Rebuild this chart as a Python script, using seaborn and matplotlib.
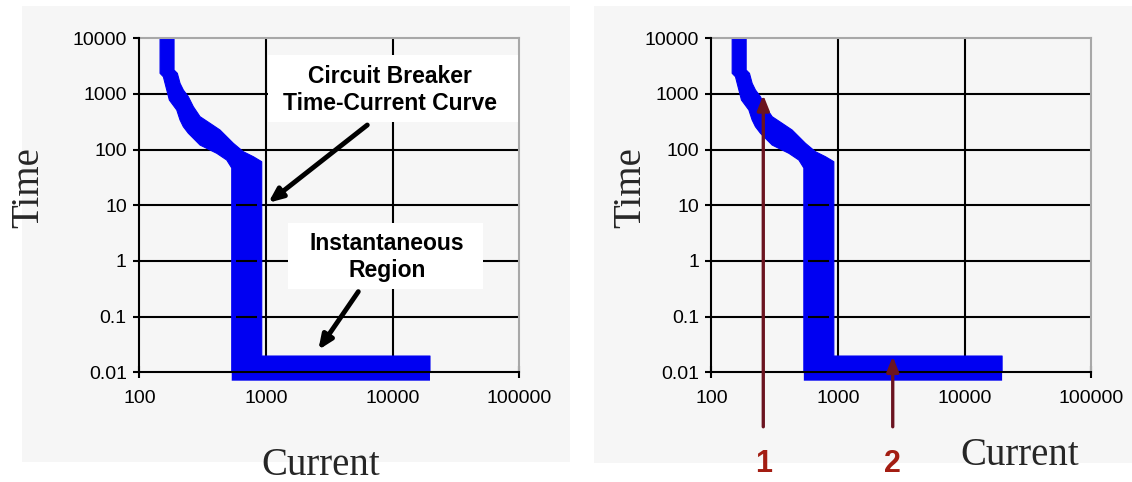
import seaborn as sns
import matplotlib.pyplot as plt
from matplotlib.patches import Rectangle

# breaker trip band (current, time)
upper_current = [187.9, 187.9, 199.5, 209.5, 222.5, 243.6, 266.8, 301.4, 361.4, 433.5,
                 552, 662, 794, 925, 925, 19700, 19700]
upper_time = [10000, 2696, 2351, 1555, 1178, 893, 591, 391, 297, 225,
              130, 91.8, 74.7, 60.7, 0.0196, 0.0196, 0.00707]
lower_current = [145.7, 145.7, 154.7, 172.5, 197.4, 209.5, 222.5, 243.6, 301.4, 408.2,
                 489.6, 536.2, 536.2]
lower_time = [10000, 2351, 2042, 779, 515, 341, 258, 197, 121, 86,
              65.1, 46.8, 0.00707]

# grid remnants seen inside the vertical part of the band
mark_time = [10, 1, 0.1]
mark_current_from = 580
mark_current_to = 853

x_ticks = [100, 1000, 10000, 100000]
x_labels = ['100', '1000', '10000', '100000']
y_ticks = [0.01, 0.1, 1, 10, 100, 1000, 10000]
y_labels = ['0.01', '0.1', '1', '10', '100', '1000', '10000']

# left panel callouts (arrow tip, arrow tail)
curve_tip = (1042, 11.1)
curve_tail = (6302, 277)
inst_tip = (2587, 0.0252)
inst_tail = (5352, 0.281)

# right panel numbered arrows
point_current = [256.5, 2698]
point_time = [957, 0.0193]
point_tail_time = 0.00105
point_names = ['1', '2']

band_x = upper_current + lower_current[::-1]
band_y = upper_time + lower_time[::-1]

panel_gray = '#f6f6f6'
blue = '#0000f2'
maroon = '#6b1420'

sns.set_theme(style='white')
plt.rcParams['font.family'] = ['Liberation Sans', 'DejaVu Sans']

fig = plt.figure(figsize=(11.32, 4.82), dpi=100)
fig.patch.set_facecolor('white')
for r in [(0.0194, 0.0409, 0.4841, 0.9467), (0.525, 0.0394, 0.475, 0.9481)]:
	fig.add_artist(Rectangle(r[:2], r[2], r[3], transform=fig.transFigure,
							 facecolor=panel_gray, edgecolor='none', zorder=-1))

ax_l = fig.add_axes([0.1231, 0.2276, 0.3357, 0.6929])
ax_r = fig.add_axes([0.6285, 0.2276, 0.3357, 0.6929])


def draw_panel(ax):
	ax.set_xscale('log')
	ax.set_yscale('log')
	ax.set_facecolor(panel_gray)

	for x in x_ticks[1:-1]:
		ax.axvline(x, color='black', lw=1.5, zorder=1)
	for y in y_ticks[1:-1]:
		ax.axhline(y, color='black', lw=1.5, zorder=1)

	ax.fill(band_x, band_y, color=blue, lw=0, zorder=2, clip_on=False)
	sns.lineplot(x=band_x + band_x[:1], y=band_y + band_y[:1], sort=False,
				 estimator=None, color=blue, lw=0.8, ax=ax, zorder=2)
	ax.hlines(mark_time, mark_current_from, mark_current_to, color='black', lw=1.5, zorder=3)

	ax.set_xlim(100, 100000)
	ax.set_ylim(0.01, 10000)
	ax.set_xticks(x_ticks)
	ax.set_xticklabels(x_labels)
	ax.set_yticks(y_ticks)
	ax.set_yticklabels(y_labels)
	ax.minorticks_off()
	ax.set_xlabel('')
	ax.set_ylabel('')
	ax.tick_params(axis='x', bottom=True, direction='inout', length=9, width=1.5,
				   pad=8, labelsize=14, color='black', labelcolor='black')
	ax.tick_params(axis='y', left=True, direction='out', length=4.3, width=1.5,
				   pad=4.7, labelsize=14, color='black', labelcolor='black')

	for s in ['left', 'bottom']:
		ax.spines[s].set_color('black')
		ax.spines[s].set_linewidth(1.5)
		ax.spines[s].set_zorder(4)
	for s in ['top', 'right']:
		ax.spines[s].set_color('#a8a8a8')
		ax.spines[s].set_linewidth(1.5)


draw_panel(ax_l)
draw_panel(ax_r)

# left panel: text boxes with black arrows
boxes = [((0.3395, 0.7503), 0.6579, 0.1997, 0.6597, 0.8452, 'Circuit Breaker\nTime-Current Curve'),
		 ((0.3921, 0.2485), 0.5124, 0.1976, 0.651, 0.3446, 'Instantaneous\nRegion')]
for xy, w, h, tx, ty, txt in boxes:
	ax_l.add_patch(Rectangle(xy, w, h, transform=ax_l.transAxes, facecolor='white',
							 edgecolor='none', zorder=4))
	ax_l.text(tx, ty, txt, transform=ax_l.transAxes, ha='center', va='center',
			  fontsize=16.5, fontweight='bold', color='black', zorder=5)

for tip, tail in [(curve_tip, curve_tail), (inst_tip, inst_tail)]:
	ax_l.annotate('', xy=tip, xytext=tail,
				  arrowprops=dict(arrowstyle='-|>,head_length=0.7,head_width=0.3',
								  color='black', lw=3.5, shrinkA=0, shrinkB=0),
				  zorder=5)

# right panel: numbered maroon arrows
for cx, ct in zip(point_current, point_time):
	ax_r.annotate('', xy=(cx, ct), xytext=(cx, point_tail_time),
				  arrowprops=dict(arrowstyle='-|>,head_length=0.75,head_width=0.3',
								  color=maroon, lw=2.4, shrinkA=0, shrinkB=0),
				  zorder=5)
for fx, name in zip([0.6743, 0.7886], point_names):
	fig.text(fx, 0.006, name, ha='center', va='bottom', fontsize=22,
			 fontweight='bold', color='#a31d12')

# axis titles in serif, as in the slide
for fx, fy in [(0.2833, 0.0145), (0.9011, 0.0353)]:
	fig.text(fx, fy, 'Current', ha='center', va='baseline', fontsize=28,
			 family=['Liberation Serif', 'DejaVu Serif'])
for fx in [0.0338, 0.5654]:
	fig.text(fx, 0.6112, 'Time', rotation=90, rotation_mode='anchor', ha='center',
			 va='baseline', fontsize=28, family=['Liberation Serif', 'DejaVu Serif'])

fig.savefig('out.png', dpi=100)
